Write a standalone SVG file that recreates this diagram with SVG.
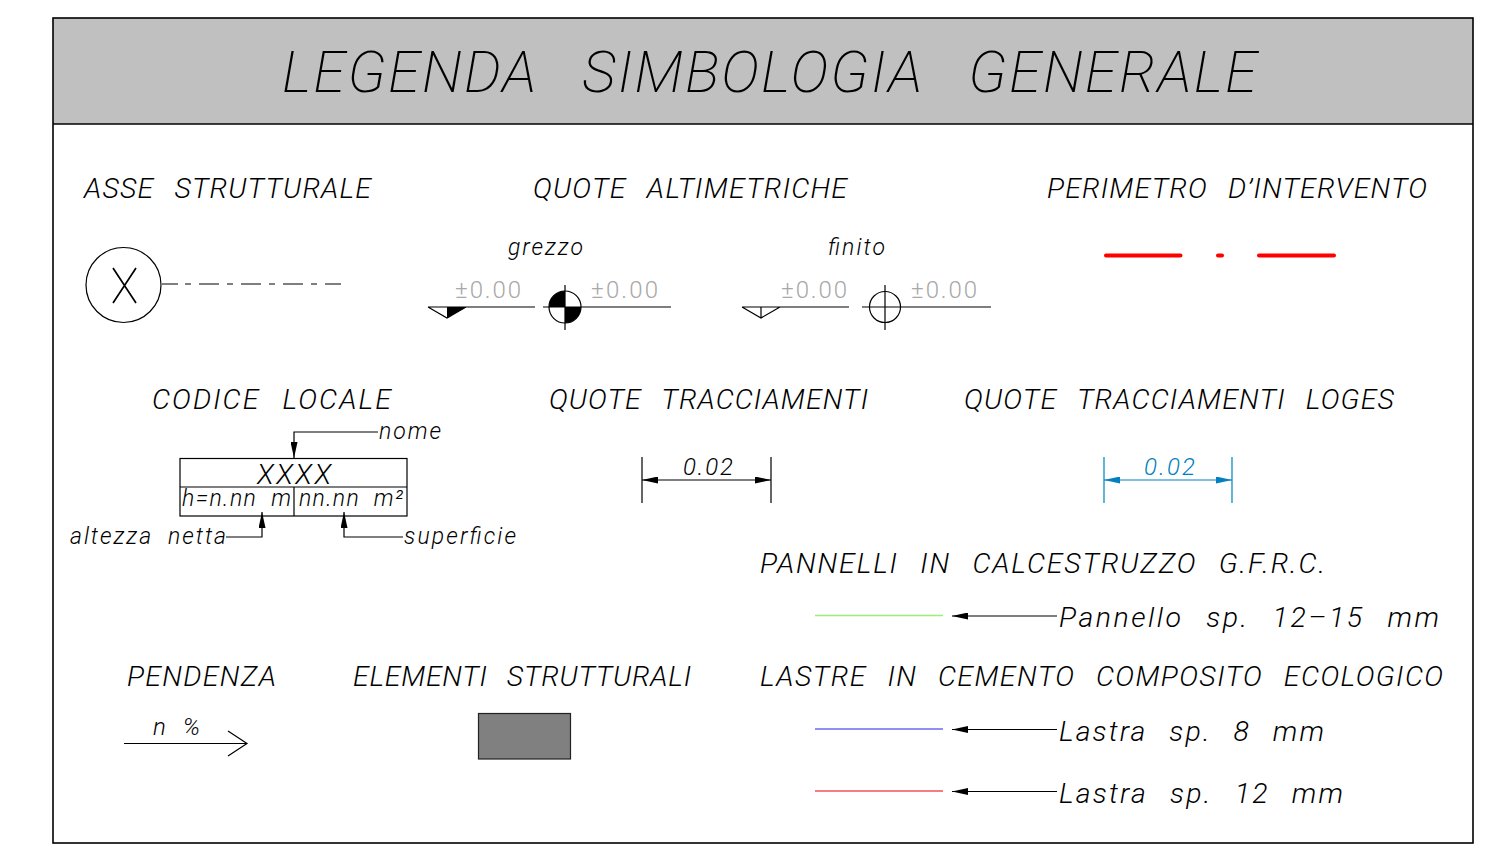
<svg xmlns="http://www.w3.org/2000/svg" width="1485" height="858" viewBox="0 0 1485 858">
<style>
text{font-family:"Roboto","Liberation Sans",sans-serif;font-style:italic;font-weight:300;fill:#000;white-space:pre}
.h{font-size:28.500px;word-spacing:2px}.s{font-size:23px}
.g{font-size:24px;font-style:normal;fill:#a8a8a8}
.l{fill:none;stroke:#000;stroke-width:1.2}
.x{fill:none;stroke:#000;stroke-width:1.7}
.a{fill:#000;stroke:none}
</style>
<defs>
<marker id="ah" markerWidth="16" markerHeight="7" refX="16" refY="3.500" orient="auto" markerUnits="userSpaceOnUse"><path d="M0 0L16 3.500L0 7Z" fill="#000"/></marker>
<marker id="ab" markerWidth="16" markerHeight="7" refX="16" refY="3.500" orient="auto" markerUnits="userSpaceOnUse"><path d="M0 0L16 3.500L0 7Z" fill="#0080c0"/></marker>
</defs>
<rect width="1485" height="858" fill="#fff"/>
<g id="frame">
<rect x="53" y="18" width="1420" height="106" fill="#c0c0c0"/>
<rect x="53" y="18" width="1420" height="825" fill="none" stroke="#000" stroke-width="1.6"/>
<line x1="53" y1="124" x2="1473" y2="124" stroke="#000" stroke-width="1.4"/>
<text x="282" y="92" font-size="58" style="font-weight:200;word-spacing:6px" textLength="975" lengthAdjust="spacing">LEGENDA  SIMBOLOGIA  GENERALE</text>
</g>
<g id="asse">
<text class="h" x="84" y="198" textLength="287">ASSE  STRUTTURALE</text>
<circle class="l" cx="123.500" cy="285" r="37.500"/>
<path class="x" d="M113 268L136 303M136 268L113 303"/>
<path class="l" d="M162 284H178M185 284H191M199 284H219M227 284H233M241 284H261M269 284H275M283 284H303M311 284H317M325 284H341"/>
</g>
<g id="quote-altimetriche">
<text class="h" x="533" y="198" textLength="314">QUOTE  ALTIMETRICHE</text>
<text class="s" x="508" y="255" textLength="75">grezzo</text>
<text class="s" x="828" y="255" textLength="57">finito</text>
<text class="g" x="455" y="298" textLength="66">±0.00</text>
<text class="g" x="591" y="298" textLength="67">±0.00</text>
<text class="g" x="781" y="298" textLength="66">±0.00</text>
<text class="g" x="911" y="298" textLength="66">±0.00</text>
<path class="l" d="M428 307H535M428 307L447 318L466 307"/>
<path class="a" d="M447 307H466L447 318Z"/>
<path class="l" d="M543 307H671M565 285V330"/>
<circle class="l" cx="565" cy="307" r="16"/>
<path class="a" d="M565 307H549A16 16 0 0 1 565 291ZM565 307H581A16 16 0 0 1 565 323Z"/>
<path class="l" d="M742 307H849M742 307L761 318L780 307M761 307V318"/>
<path class="l" d="M862 307H991M885 285V330"/>
<circle class="l" cx="885" cy="307" r="15.500"/>
</g>
<g id="perimetro">
<text class="h" x="1047" y="198" textLength="380">PERIMETRO  D’INTERVENTO</text>
<path d="M1106 255.500H1180.500M1218 255.500H1222M1259 255.500H1334" fill="none" stroke="#f00" stroke-width="4" stroke-linecap="round"/>
</g>
<g id="codice-locale">
<text class="h" x="152" y="409" textLength="239">CODICE  LOCALE</text>
<rect class="l" x="180" y="458.500" width="227" height="57.500"/>
<path class="l" d="M180 487H407M294 487V516"/>
<text x="257" y="484" font-size="28" textLength="74">XXXX</text>
<text class="s" x="182" y="506" textLength="109">h=n.nn  m</text>
<text class="s" x="299" y="506" textLength="104">nn.nn  m²</text>
<text class="s" x="379" y="439" textLength="62">nome</text>
<text class="s" x="70" y="544" textLength="156">altezza  netta</text>
<text class="s" x="404" y="544" textLength="112">superficie</text>
</g>
<g id="quote-tracciamenti">
<text class="h" x="549" y="409" textLength="319">QUOTE  TRACCIAMENTI</text>
<text x="683" y="475" font-size="24" textLength="50">0.02</text>
<path class="l" d="M642 457V503M771 457V503"/>
</g>
<g id="quote-loges">
<text class="h" x="964" y="409" textLength="430">QUOTE  TRACCIAMENTI  LOGES</text>
<text x="1144" y="475" font-size="24" textLength="51" style="fill:#0080c0">0.02</text>
<path d="M1104 457V503M1232 457V503" fill="none" stroke="#0080c0" stroke-width="1.2"/>
</g>
<g id="pannelli">
<text class="h" x="760" y="573" textLength="565">PANNELLI  IN  CALCESTRUZZO  G.F.R.C.</text>
<line x1="815" y1="615.500" x2="943" y2="615.500" stroke="#9cf070" stroke-width="1.4"/>
<text class="h" x="1059" y="627" textLength="380">Pannello  sp.  12–15  mm</text>
</g>
<g id="lastre">
<text class="h" x="760" y="686" textLength="683">LASTRE  IN  CEMENTO  COMPOSITO  ECOLOGICO</text>
<line x1="815" y1="729" x2="943" y2="729" stroke="#6a6af0" stroke-width="1.600"/>
<line x1="815" y1="791" x2="943" y2="791" stroke="#f05058" stroke-width="1.600"/>
<text class="h" x="1059" y="741" textLength="265">Lastra  sp.  8  mm</text>
<text class="h" x="1059" y="803" textLength="284">Lastra  sp.  12  mm</text>
</g>
<g id="pendenza">
<text class="h" x="127" y="686" textLength="149">PENDENZA</text>
<text x="153" y="735" font-size="24" style="word-spacing:-2px" textLength="47">n  %</text>
<path class="l" d="M124 743.500H247M228 731L247 743.500L228 756"/>
</g>
<g id="elementi">
<text class="h" x="353" y="686" textLength="338">ELEMENTI  STRUTTURALI</text>
<rect x="478.500" y="713.500" width="92" height="45.500" fill="#808080" stroke="#222" stroke-width="1.2"/>
</g>
<g id="connectors" fill="none" stroke="#000" stroke-width="1.2">
<path d="M378 432H294V458" marker-end="url(#ah)"/>
<path d="M226 537H262V512" marker-end="url(#ah)"/>
<path d="M403 537H344V512" marker-end="url(#ah)"/>
<path d="M707 480H642" marker-end="url(#ah)"/>
<path d="M707 480H771" marker-end="url(#ah)"/>
<path d="M1168 480H1104" stroke="#0080c0" marker-end="url(#ab)"/>
<path d="M1168 480H1232" stroke="#0080c0" marker-end="url(#ab)"/>
<path d="M1057 616H952" marker-end="url(#ah)"/>
<path d="M1057 729.500H952" marker-end="url(#ah)"/>
<path d="M1057 791.500H952" marker-end="url(#ah)"/>
</g>
</svg>
